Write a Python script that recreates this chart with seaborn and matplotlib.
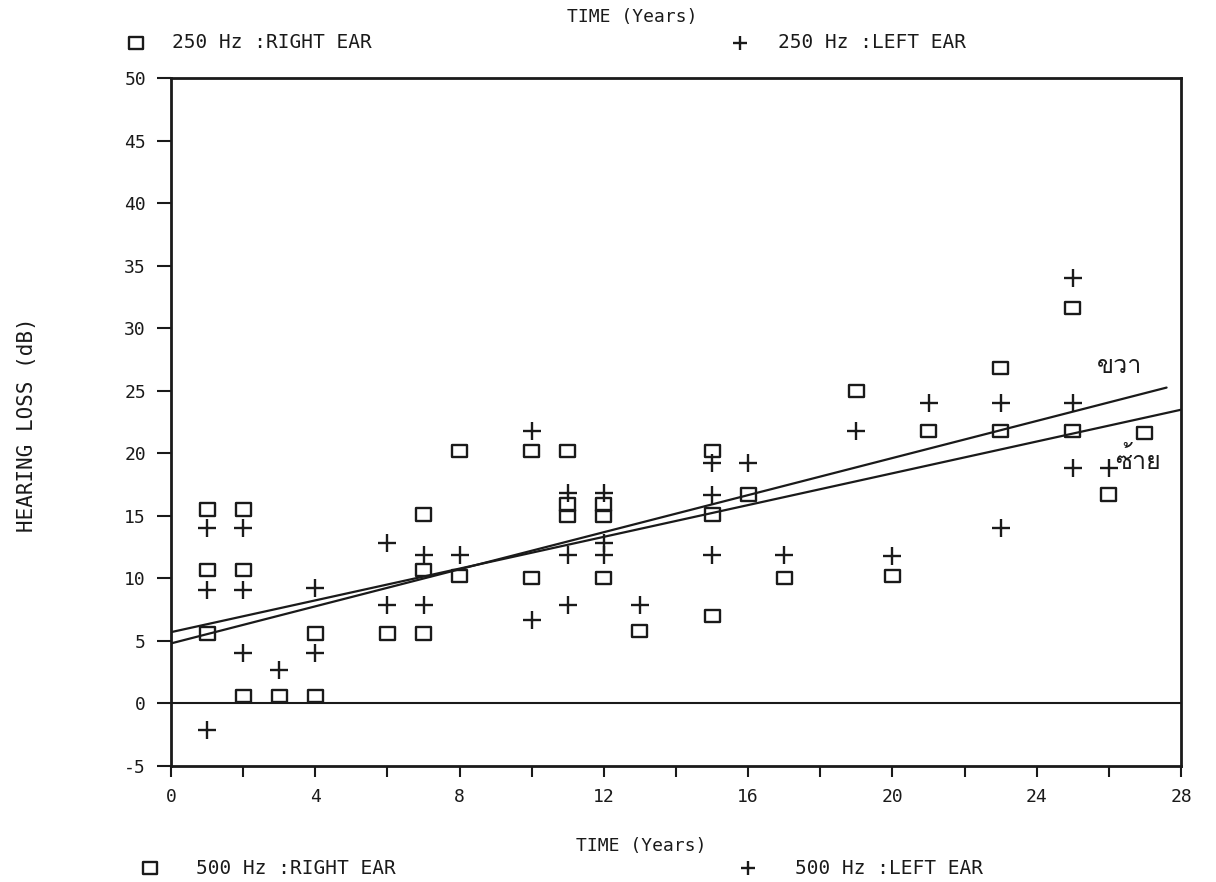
import numpy as np
import pandas as pd
import matplotlib
matplotlib.use("Agg")
import matplotlib.pyplot as plt
from matplotlib.path import Path
from matplotlib.lines import Line2D
from matplotlib import font_manager
from matplotlib.ft2font import FT2Font
import seaborn as sns

# ---- data -------------------------------------------------------------
# right ear thresholds (square markers), years of exposure vs hearing loss (dB)
right_years = [1, 1, 1, 2, 2, 2, 3, 4, 4, 6, 7, 7, 7, 8, 8,
               10, 10, 11, 11, 11, 12, 12, 12, 13, 15, 15, 15,
               16, 17, 19, 20, 21, 23, 23, 25, 25, 26, 27]
right_db = [15.5, 10.7, 5.6, 15.5, 10.7, 0.6, 0.6, 0.6, 5.6, 5.6, 5.6, 10.7, 15.1, 10.2, 20.2,
            20.2, 10.0, 20.2, 15.9, 15.0, 15.9, 15.0, 10.0, 5.8, 20.2, 15.1, 7.0,
            16.7, 10.0, 25.0, 10.2, 21.8, 26.8, 21.8, 31.6, 21.8, 16.7, 21.6]

# left ear thresholds (plus markers)
left_years = [1, 1, 1, 2, 2, 2, 3, 4, 4, 6, 6, 7, 7, 8,
              10, 10, 11, 11, 11, 12, 12, 12, 13, 15, 15, 15,
              16, 17, 19, 20, 21, 23, 23, 25, 25, 25, 26]
left_db = [14.0, 9.1, -2.1, 14.0, 9.1, 4.0, 2.7, 9.2, 4.0, 12.8, 7.9, 11.9, 7.9, 11.9,
           21.8, 6.7, 16.8, 11.9, 7.9, 16.8, 12.8, 11.9, 7.9, 19.2, 16.7, 11.9,
           19.2, 11.9, 21.8, 11.8, 24.0, 24.0, 14.0, 34.0, 24.0, 18.8, 18.8]

# fitted trend lines: intercept (dB), slope (dB / year), last year drawn
fit_names = ["right", "left"]
fit_intercept = [4.8, 5.7]
fit_slope = [0.741, 0.635]
fit_end = [27.6, 28.0]

x_ticks = [0, 4, 8, 12, 16, 20, 24, 28]
x_minor = [2, 6, 10, 14, 18, 22, 26]
y_ticks = [-5, 0, 5, 10, 15, 20, 25, 30, 35, 40, 45, 50]

legend_top = ["250 Hz :RIGHT EAR", "250 Hz :LEFT EAR"]
legend_bottom = ["500 Hz :RIGHT EAR", "500 Hz :LEFT EAR"]
axis_title = "TIME (Years)"
y_title = "HEARING LOSS (dB)"
side_notes = ["ขวา", "ซ้าย"]
side_note_pos = [(26.3, 26.9), (26.8, 19.4)]

# ---- style ------------------------------------------------------------
sns.set_theme(style="white")
MONO = "DejaVu Sans Mono"
plt.rcParams["font.family"] = [MONO, "DejaVu Sans"]
plt.rcParams["axes.unicode_minus"] = False
INK = "#1a1a1a"


def font_with(ch):
    code = ord(ch)
    for f in font_manager.fontManager.ttflist:
        try:
            if code in FT2Font(f.fname).get_charmap():
                return f.name
        except Exception:
            continue
    return "DejaVu Sans"


thai_font = font_with("ข")

# wide open rectangle used as the square marker
rect = Path([(-1.0, -0.82), (1.0, -0.82), (1.0, 0.82), (-1.0, 0.82), (-1.0, -0.82)],
            [Path.MOVETO, Path.LINETO, Path.LINETO, Path.LINETO, Path.CLOSEPOLY])

W, H = 1216, 882
fig = plt.figure(figsize=(W / 100, H / 100), dpi=100)
fig.patch.set_facecolor("white")
ax = fig.add_axes([171 / W, 1 - 766 / H, 1010 / W, 688 / H])
ax.set_facecolor("white")

df_r = pd.DataFrame({"years": right_years, "db": right_db})
df_l = pd.DataFrame({"years": left_years, "db": left_db})

sns.scatterplot(data=df_r, x="years", y="db", marker=rect, s=115,
                color=INK, facecolor="none", edgecolor=INK, linewidth=1.7,
                ax=ax, zorder=3, legend=False)
sns.scatterplot(data=df_l, x="years", y="db", marker="+", s=150,
                color=INK, linewidth=1.7, ax=ax, zorder=3, legend=False)

# trend lines built from intercept/slope
for name, a, b, end in zip(fit_names, fit_intercept, fit_slope, fit_end):
    xs = np.array([0.0, end])
    sns.lineplot(x=xs, y=a + b * xs, color=INK, linewidth=1.6, ax=ax,
                 estimator=None, sort=False, zorder=2)

ax.axhline(0, color=INK, linewidth=1.5, zorder=1)

ax.set_xlim(0, 28)
ax.set_ylim(-5, 50)
ax.set_xticks(x_ticks)
ax.set_xticks(x_minor, minor=True)
ax.set_xticklabels([str(v) for v in x_ticks])
ax.set_yticks(y_ticks)
ax.set_yticklabels([str(v) for v in y_ticks])
ax.set_xlabel("")
ax.set_ylabel("")

for s in ax.spines.values():
    s.set_visible(True)
    s.set_color(INK)
    s.set_linewidth(2.0)

ax.tick_params(axis="y", which="major", direction="out", length=10, width=1.5,
               color=INK, pad=8, labelsize=13, labelcolor=INK, left=True)
ax.tick_params(axis="x", which="both", direction="out", length=8, width=1.5,
               color=INK, pad=8, labelsize=13, labelcolor=INK, bottom=True)
for lab in ax.get_xticklabels() + ax.get_yticklabels():
    lab.set_family([MONO, "DejaVu Sans"])

# handwritten side notes
for txt, (nx, ny) in zip(side_notes, side_note_pos):
    ax.text(nx, ny, txt, fontsize=18, color=INK, ha="center", va="center",
            family=[thai_font, "DejaVu Sans"], zorder=4)

# titles
fig.text(632 / W, 1 - 17 / H, axis_title, ha="center", va="center",
         fontsize=13, color=INK, family=[MONO, "DejaVu Sans"])
fig.text(641 / W, 1 - 846 / H, axis_title, ha="center", va="center",
         fontsize=13, color=INK, family=[MONO, "DejaVu Sans"])
fig.text(27 / W, 1 - 425 / H, y_title, rotation=90, ha="center", va="center",
         fontsize=15, color=INK, family=[MONO, "DejaVu Sans"])


# legend rows above and below the plot
def legend_row(ypix, box_x, text_x, plus_x, text2_x, labels):
    yf = 1 - ypix / H
    fig.add_artist(Line2D([box_x / W], [yf], transform=fig.transFigure, marker=rect,
                          markersize=10, markerfacecolor="none", markeredgecolor=INK,
                          markeredgewidth=1.7, linestyle="none"))
    fig.text(text_x / W, yf, labels[0], ha="left", va="center", fontsize=14,
             color=INK, family=[MONO, "DejaVu Sans"])
    fig.add_artist(Line2D([plus_x / W], [yf], transform=fig.transFigure, marker="+",
                          markersize=10, markeredgecolor=INK, markeredgewidth=1.7,
                          linestyle="none"))
    fig.text(text2_x / W, yf, labels[1], ha="left", va="center", fontsize=14,
             color=INK, family=[MONO, "DejaVu Sans"])


legend_row(43, 136, 172, 740, 778, legend_top)
legend_row(868, 150, 196, 748, 795, legend_bottom)

fig.savefig("out.png", dpi=100, facecolor="white")
